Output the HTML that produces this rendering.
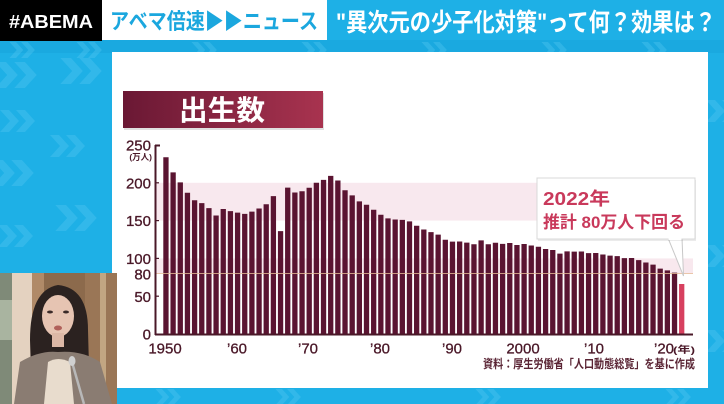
<!DOCTYPE html>
<html><head><meta charset="utf-8">
<style>
html,body{margin:0;padding:0;width:724px;height:404px;overflow:hidden;background:#1eb0e6;}
svg{display:block;}
text{font-family:"Liberation Sans","Noto Sans CJK JP",sans-serif;}
</style></head>
<body>
<svg width="724" height="404" viewBox="0 0 724 404" xmlns="http://www.w3.org/2000/svg">
<defs>
  <linearGradient id="ban" x1="0" y1="0" x2="1" y2="0">
    <stop offset="0" stop-color="#6a1834"/>
    <stop offset="1" stop-color="#a8334f"/>
  </linearGradient>
  <symbol id="chev" viewBox="0 0 40 22">
    <polygon points="0,0 9,0 19,11 9,22 0,22 10,11" fill="#5ac8f0"/>
    <polygon points="16,0 25,0 35,11 25,22 16,22 26,11" fill="#5ac8f0"/>
  </symbol>
</defs>

<rect x="0" y="0" width="724" height="404" fill="#1eb0e6"/>
<rect x="0" y="40" width="724" height="13" fill="#1aa9e0"/>
<g opacity="0.35">
  <use href="#chev" x="8" y="42" width="32" height="16"/>
  <use href="#chev" x="75" y="42" width="32" height="16"/>
  <use href="#chev" x="190" y="42" width="32" height="16"/>
  <use href="#chev" x="300" y="42" width="32" height="16"/>
  <use href="#chev" x="420" y="42" width="32" height="16"/>
  <use href="#chev" x="540" y="42" width="32" height="16"/>
  <use href="#chev" x="640" y="42" width="32" height="16"/>
  <use href="#chev" x="-5" y="62" width="48" height="26"/>
  <use href="#chev" x="60" y="58" width="48" height="26"/>
  <use href="#chev" x="0" y="110" width="40" height="22"/>
  <use href="#chev" x="-8" y="160" width="48" height="26"/>
  <use href="#chev" x="50" y="135" width="40" height="22"/>
  <use href="#chev" x="-2" y="225" width="40" height="22"/>
  <use href="#chev" x="55" y="205" width="48" height="26"/>
  <use href="#chev" x="706" y="100" width="40" height="22"/>
  <use href="#chev" x="706" y="245" width="40" height="22"/>
  <use href="#chev" x="706" y="330" width="40" height="22"/>
  <use href="#chev" x="150" y="389" width="40" height="16"/>
  <use href="#chev" x="270" y="389" width="40" height="16"/>
  <use href="#chev" x="470" y="389" width="40" height="16"/>
  <use href="#chev" x="660" y="389" width="40" height="16"/>
</g>

<rect x="0" y="0" width="102" height="41" fill="#000"/>
<text x="9" y="28" font-size="18" font-weight="bold" fill="#fff" textLength="84" lengthAdjust="spacingAndGlyphs">#ABEMA</text>
<rect x="102" y="0" width="225" height="40" fill="#fff"/>
<text x="110" y="29" font-size="22" font-weight="bold" fill="#1ba7de" textLength="208" lengthAdjust="spacingAndGlyphs">アベマ倍速▶▶ニュース</text>
<text x="336" y="31" font-size="25" font-weight="bold" fill="#fff" textLength="380" lengthAdjust="spacingAndGlyphs">"異次元の少子化対策"って何？効果は？</text>

<rect x="112" y="52" width="596" height="336" fill="#ffffff"/>

<rect x="124" y="93" width="200" height="37" fill="#000" opacity="0.12"/>
<rect x="123" y="91" width="200" height="37" fill="url(#ban)"/>
<text x="222" y="120" font-size="28" font-weight="bold" fill="#fff" text-anchor="middle" textLength="86" lengthAdjust="spacingAndGlyphs">出生数</text>

<rect x="156" y="182.8" width="537" height="37.8" fill="#f8e8ee"/>
<rect x="156" y="258.4" width="537" height="15.1" fill="#f8e8ee"/>

<path fill="#5a1431" d="M163.3,334V157.25h5.3V334z M170.46,334V172.37h5.3V334z M177.63,334V182.42h5.3V334z M184.79,334V192.78h5.3V334z M191.95,334V200.19h5.3V334z M199.12,334V203.14h5.3V334z M206.28,334V208.13h5.3V334z M213.44,334V215.53h5.3V334z M220.6,334V209.03h5.3V334z M227.77,334V211.07h5.3V334z M234.93,334V212.59h5.3V334z M242.09,334V213.87h5.3V334z M249.26,334V211.6h5.3V334z M256.42,334V208.5h5.3V334z M263.58,334V204.19h5.3V334z M270.75,334V196.11h5.3V334z M277.91,334V231.11h5.3V334z M285.07,334V187.64h5.3V334z M292.23,334V192.48h5.3V334z M299.4,334V191.19h5.3V334z M306.56,334V187.79h5.3V334z M313.72,334V182.72h5.3V334z M320.89,334V179.85h5.3V334z M328.05,334V175.84h5.3V334z M335.21,334V180.53h5.3V334z M342.38,334V190.28h5.3V334z M349.54,334V195.43h5.3V334z M356.7,334V201.32h5.3V334z M363.86,334V204.8h5.3V334z M371.03,334V209.79h5.3V334z M378.19,334V214.78h5.3V334z M385.35,334V218.41h5.3V334z M392.52,334V219.47h5.3V334z M399.68,334V219.92h5.3V334z M406.84,334V221.36h5.3V334z M414.01,334V225.74h5.3V334z M421.17,334V229.45h5.3V334z M428.33,334V232.17h5.3V334z M435.49,334V234.66h5.3V334z M442.66,334V239.73h5.3V334z M449.82,334V241.62h5.3V334z M456.98,334V241.54h5.3V334z M464.15,334V242.6h5.3V334z M471.31,334V244.19h5.3V334z M478.47,334V240.41h5.3V334z M485.64,334V244.26h5.3V334z M492.8,334V242.75h5.3V334z M499.96,334V243.88h5.3V334z M507.12,334V243.05h5.3V334z M514.29,334V244.94h5.3V334z M521.45,334V243.96h5.3V334z M528.61,334V245.47h5.3V334z M535.78,334V246.76h5.3V334z M542.94,334V249.03h5.3V334z M550.1,334V250.01h5.3V334z M557.27,334V253.64h5.3V334z M564.43,334V251.37h5.3V334z M571.59,334V251.6h5.3V334z M578.75,334V251.52h5.3V334z M585.92,334V253.11h5.3V334z M593.08,334V253.03h5.3V334z M600.24,334V254.54h5.3V334z M607.41,334V255.6h5.3V334z M614.57,334V256.13h5.3V334z M621.73,334V258.1h5.3V334z M628.9,334V257.95h5.3V334z M636.06,334V260.14h5.3V334z M643.22,334V262.48h5.3V334z M650.38,334V264.6h5.3V334z M657.55,334V268.61h5.3V334z M664.71,334V270.42h5.3V334z M671.87,334V272.61h5.3V334z"/>
<rect x="679.04" y="284" width="5.3" height="50" fill="#d7405f"/>

<line x1="156" y1="273.5" x2="693" y2="273.5" stroke="#e6bc98" stroke-width="1" opacity="0.8"/>

<g stroke="#4a1828" stroke-width="2" fill="none">
  <line x1="155.5" y1="145" x2="155.5" y2="335"/>
  <line x1="155" y1="334.5" x2="693" y2="334.5"/>
  <line x1="155" y1="145.5" x2="160" y2="145.5"/>
</g>
<g stroke="#4a1828" stroke-width="1.2">
  <line x1="155" y1="182.8" x2="159" y2="182.8"/>
  <line x1="155" y1="220.6" x2="159" y2="220.6"/>
  <line x1="155" y1="258.4" x2="159" y2="258.4"/>
  <line x1="155" y1="296.2" x2="159" y2="296.2"/>
</g>

<g font-size="15" fill="#4a1828" text-anchor="end" stroke="#4a1828" stroke-width="0.3">
  <text x="151" y="150.5">250</text>
  <text x="151" y="188.3">200</text>
  <text x="151" y="226">150</text>
  <text x="151" y="264">100</text>
  <text x="151" y="279.5">80</text>
  <text x="151" y="302">50</text>
  <text x="151" y="339.5">0</text>
</g>
<text x="152" y="160" font-size="8.5" font-weight="bold" fill="#4a1828" text-anchor="end">(万人)</text>

<g font-size="15" fill="#4a1828" text-anchor="middle" stroke="#4a1828" stroke-width="0.3">
  <text x="165" y="353.5">1950</text>
  <text x="237" y="353.5">’60</text>
  <text x="308" y="353.5">’70</text>
  <text x="380" y="353.5">’80</text>
  <text x="452" y="353.5">’90</text>
  <text x="523" y="353.5">2000</text>
  <text x="594" y="353.5">’10</text>
  <text x="664" y="353.5">’20</text>
</g>
<text x="673" y="353" font-size="9.5" font-weight="bold" fill="#4a1828" textLength="22" lengthAdjust="spacingAndGlyphs">(年)</text>
<text x="483" y="368" font-size="12" font-weight="bold" fill="#5a2434" textLength="212" lengthAdjust="spacingAndGlyphs">資料：厚生労働省「人口動態総覧」を基に作成</text>

<polygon points="668,238 682,238 683.5,276" fill="#fff" stroke="#c8c8c8" stroke-width="1"/>
<rect x="538" y="180" width="158" height="61" fill="#000" opacity="0.08"/>
<rect x="537" y="178" width="158" height="61" fill="#fff" stroke="#d8d8d8" stroke-width="1"/>
<rect x="668.5" y="237" width="13" height="3" fill="#fff"/>
<text x="543" y="205" font-size="18" font-weight="bold" fill="#c9395b" textLength="67" lengthAdjust="spacingAndGlyphs">2022年</text>
<text x="543" y="228" font-size="17" font-weight="bold" fill="#c9395b" textLength="142" lengthAdjust="spacingAndGlyphs">推計 80万人下回る</text>

<rect x="0" y="273" width="117" height="131" fill="#8c6a4c"/>
<rect x="0" y="273" width="12" height="131" fill="#7f8a78"/>
<rect x="0" y="300" width="12" height="40" fill="#a9b4a0"/>
<rect x="12" y="273" width="20" height="131" fill="#e4d2c0"/>
<rect x="32" y="273" width="12" height="131" fill="#b08a68"/>
<rect x="85" y="273" width="32" height="131" fill="#9a7656"/>
<rect x="100" y="273" width="6" height="131" fill="#c2a682"/>
<path d="M32,404 L30,340 Q30,290 58,285 Q88,288 88,330 L90,404 Z" fill="#2b2220"/>
<path d="M14,404 L20,362 Q40,350 58,352 Q82,350 100,362 L112,404 Z" fill="#8a7c72"/>
<path d="M44,404 L48,362 Q58,356 70,362 L74,404 Z" fill="#e8dccd"/>
<ellipse cx="58" cy="316" rx="16" ry="21" fill="#e6c4b2"/>
<rect x="52" y="333" width="12" height="14" fill="#dcb8a6"/>
<ellipse cx="50" cy="312" rx="3" ry="1.5" fill="#3a2a28"/>
<ellipse cx="66" cy="312" rx="3" ry="1.5" fill="#3a2a28"/>
<ellipse cx="58" cy="328" rx="4" ry="2.5" fill="#b0605a"/>
<line x1="72" y1="362" x2="84" y2="404" stroke="#b8b8b8" stroke-width="2.5"/>
<ellipse cx="72" cy="361" rx="3.5" ry="5" fill="#d0d0d0"/>
</svg>
</body></html>
